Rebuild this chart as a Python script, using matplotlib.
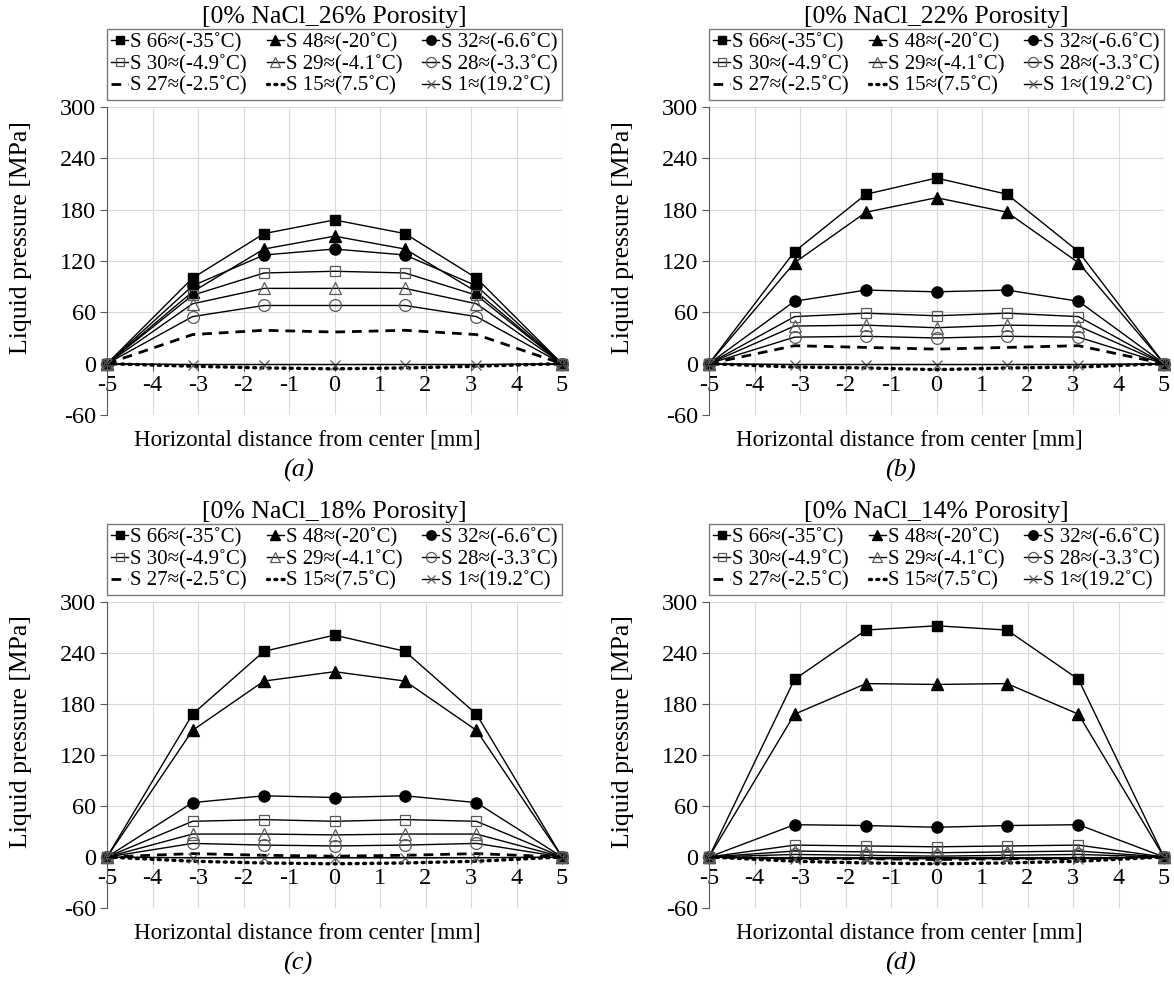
import matplotlib
matplotlib.use("Agg")
import matplotlib.pyplot as plt

plt.rcParams['font.family'] = ['Liberation Serif', 'DejaVu Serif']
plt.rcParams['axes.unicode_minus'] = False

# horizontal positions of the sensors [mm]
x_pos = [-5, -3.12, -1.55, 0, 1.55, 3.12, 5]

series_names = ["S 66≈(-35˚C)", "S 48≈(-20˚C)", "S 32≈(-6.6˚C)",
                "S 30≈(-4.9˚C)", "S 29≈(-4.1˚C)", "S 28≈(-3.3˚C)",
                "S 27≈(-2.5˚C)", "S 15≈(7.5˚C)", "S 1≈(19.2˚C)"]

# 26% porosity
p26_s66 = [0, 100, 152, 168, 152, 100, 0]
p26_s48 = [0, 84, 134, 149, 134, 84, 0]
p26_s32 = [0, 91, 127, 134, 127, 91, 0]
p26_s30 = [0, 80, 106, 108, 106, 80, 0]
p26_s29 = [0, 70, 88, 88, 88, 70, 0]
p26_s28 = [0, 55, 68, 68, 68, 55, 0]
p26_s27 = [0, 34, 39, 37, 39, 34, 0]
p26_s15 = [0, -3, -5, -6, -5, -3, 0]
p26_s1 = [0, -1, -1, -1, -1, -1, 0]

# 22% porosity
p22_s66 = [0, 131, 198, 217, 198, 131, 0]
p22_s48 = [0, 118, 177, 194, 177, 118, 0]
p22_s32 = [0, 73, 86, 84, 86, 73, 0]
p22_s30 = [0, 55, 59, 56, 59, 55, 0]
p22_s29 = [0, 44, 45, 42, 45, 44, 0]
p22_s28 = [0, 31, 32, 30, 32, 31, 0]
p22_s27 = [0, 21, 19, 17, 19, 21, 0]
p22_s15 = [0, -4, -5, -7, -5, -4, 0]
p22_s1 = [0, -1, -1, -1, -1, -1, 0]

# 18% porosity
p18_s66 = [0, 168, 242, 261, 242, 168, 0]
p18_s48 = [0, 149, 207, 218, 207, 149, 0]
p18_s32 = [0, 64, 72, 70, 72, 64, 0]
p18_s30 = [0, 42, 44, 42, 44, 42, 0]
p18_s29 = [0, 27, 27, 26, 27, 27, 0]
p18_s28 = [0, 16, 14, 13, 14, 16, 0]
p18_s27 = [0, 4, 2, 1, 2, 4, 0]
p18_s15 = [0, -5, -7, -8, -7, -5, 0]
p18_s1 = [0, -1, -1, -1, -1, -1, 0]

# 14% porosity
p14_s66 = [0, 209, 267, 272, 267, 209, 0]
p14_s48 = [0, 168, 204, 203, 204, 168, 0]
p14_s32 = [0, 38, 37, 35, 37, 38, 0]
p14_s30 = [0, 14, 13, 12, 13, 14, 0]
p14_s29 = [0, 7, 6, 5, 6, 7, 0]
p14_s28 = [0, 3, 2, 1, 2, 3, 0]
p14_s27 = [0, -2, -2, -3, -2, -2, 0]
p14_s15 = [0, -5, -7, -8, -7, -5, 0]
p14_s1 = [0, -2, -2, -2, -2, -2, 0]

titles = ["[0% NaCl_26% Porosity]", "[0% NaCl_22% Porosity]",
          "[0% NaCl_18% Porosity]", "[0% NaCl_14% Porosity]"]
captions = ["(a)", "(b)", "(c)", "(d)"]
panel_data = [
    [p26_s66, p26_s48, p26_s32, p26_s30, p26_s29, p26_s28, p26_s27, p26_s15, p26_s1],
    [p22_s66, p22_s48, p22_s32, p22_s30, p22_s29, p22_s28, p22_s27, p22_s15, p22_s1],
    [p18_s66, p18_s48, p18_s32, p18_s30, p18_s29, p18_s28, p18_s27, p18_s15, p18_s1],
    [p14_s66, p14_s48, p14_s32, p14_s30, p14_s29, p14_s28, p14_s27, p14_s15, p14_s1],
]

gray = '#595959'
styles = [
    dict(marker='s', ms=7, mfc='black', mec='black', ls='-', lw=1.0, color='black'),
    dict(marker='^', ms=8, mfc='black', mec='black', ls='-', lw=1.0, color='black'),
    dict(marker='o', ms=8, mfc='black', mec='black', ls='-', lw=1.0, color='black'),
    dict(marker='s', ms=7, mfc='none', mec=gray, mew=0.9, ls='-', lw=1.0, color='black'),
    dict(marker='^', ms=8, mfc='none', mec=gray, mew=0.9, ls='-', lw=1.0, color='black'),
    dict(marker='o', ms=8.5, mfc='none', mec=gray, mew=0.9, ls='-', lw=1.0, color='black'),
    dict(marker=None, ls=(0, (3.5, 2.5)), lw=2.0, color='black'),
    dict(marker=None, ls=(0, (0.6, 1.6)), lw=2.4, color='black', dash_capstyle='round'),
    dict(marker='x', ms=7, mfc='none', mec=gray, mew=0.9, ls='-', lw=1.0, color='black'),
]

W, H = 1174, 989
fig = plt.figure(figsize=(W / 100, H / 100), dpi=100)

# axes boxes in pixels: left, top, right, bottom
boxes = [(107, 107, 562, 415), (709, 107, 1164, 415),
         (107, 602, 562, 908), (709, 602, 1164, 908)]

for k, (l, t, r, b) in enumerate(boxes):
    ax = fig.add_axes([l / W, 1 - b / H, (r - l) / W, (b - t) / H])
    ah = b - t
    aw = r - l
    handles = []
    for vals, st in zip(panel_data[k], styles):
        h, = ax.plot(x_pos, vals, clip_on=False, **st)
        handles.append(h)

    ax.set_xlim(-5, 5)
    ax.set_ylim(-60, 300)
    ax.set_xticks(range(-5, 6))
    ax.set_yticks(range(-60, 301, 60))
    ax.grid(True, color='#d9d9d9', lw=0.8)
    ax.set_axisbelow(True)
    for s in ['top', 'right']:
        ax.spines[s].set_visible(False)
    ax.spines['left'].set_color(gray)
    ax.spines['bottom'].set_position(('data', 0))
    ax.spines['bottom'].set_color('black')
    ax.tick_params(axis='both', direction='out', length=5, width=0.8,
                   color=gray, labelsize=17.5, pad=3)
    ax.tick_params(axis='x', pad=3)

    ax.set_ylabel("Liquid pressure [MPa]", fontsize=18.5)
    ax.yaxis.set_label_coords(-75 / aw, 0.575)
    ax.text(0.44, -25 / ah, "Horizontal distance from center [mm]",
            transform=ax.transAxes, ha='center', va='center', fontsize=16.5)
    ax.text(0.42, -55 / ah, captions[k], transform=ax.transAxes,
            ha='center', va='center', fontsize=19, style='italic')
    ax.text(0.5, 1 + 90 / ah, titles[k], transform=ax.transAxes,
            ha='center', va='center', fontsize=18.5)

    # row-wise legend order for three columns
    order = [0, 3, 6, 1, 4, 7, 2, 5, 8]
    leg = ax.legend([handles[i] for i in order], [series_names[i] for i in order],
                    ncol=3, loc='lower left', mode='expand',
                    bbox_to_anchor=(0, 1 + 7 / ah, 1, 68 / ah), borderaxespad=0,
                    fontsize=15, handlelength=0.8, handletextpad=0.1,
                    labelspacing=0.1, borderpad=0.2, columnspacing=0.6,
                    fancybox=False, frameon=True, markerscale=0.85)
    leg.get_frame().set_edgecolor(gray)
    leg.get_frame().set_linewidth(1.0)

fig.savefig("out.png", dpi=100)
